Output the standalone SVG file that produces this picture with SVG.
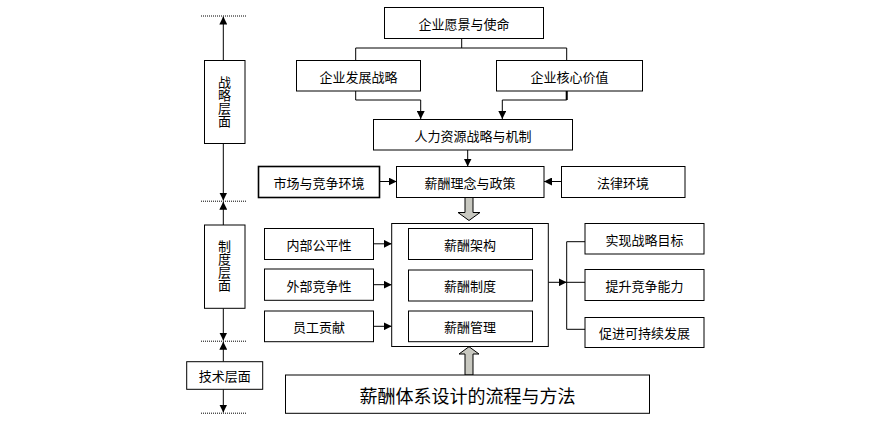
<svg xmlns="http://www.w3.org/2000/svg" width="893" height="421" viewBox="0 0 893 421">
<style>
.b{fill:#fff;stroke:#000;stroke-width:1}
.t{font-family:"Noto Sans CJK SC","Noto Sans",sans-serif;font-size:13px;fill:#000;text-anchor:middle;dominant-baseline:central}
.v{writing-mode:vertical-rl}
.c{fill:none;stroke:#000;stroke-width:1}
.d{fill:none;stroke:#000;stroke-width:1;stroke-dasharray:1,1}
.g{fill:#c8c8c0;stroke:#000;stroke-width:1}
</style>
<defs>
<marker id="ah" markerUnits="userSpaceOnUse" markerWidth="8" markerHeight="8" viewBox="0 0 10 10" refX="10" refY="5" orient="auto">
<path d="M0,0 L10,5 L0,10 z" fill="#000"/>
</marker>
</defs>
<rect width="893" height="421" fill="#fff"/>
<g id="connectors">
<path class="c" d="M461.7,38 V48 M355.7,60 V48 H566.7 V60"/>
<path class="c" d="M355.7,91 V100 H420.7 V119" marker-end="url(#ah)"/>
<path class="c" d="M566.7,91 V100 H502.3 V119" marker-end="url(#ah)"/>
<path class="c" d="M566.7,91 V100" style="stroke-width:2"/>
<path class="c" d="M467.7,150 V166.5" marker-end="url(#ah)"/>
<path class="c" d="M379.3,181.5 H396.7" marker-end="url(#ah)"/>
<path class="c" d="M561.7,181.5 H544" marker-end="url(#ah)"/>
<path class="c" d="M373.3,243.8 H391.7" marker-end="url(#ah)"/>
<path class="c" d="M373.3,284.7 H391.7" marker-end="url(#ah)"/>
<path class="c" d="M373.3,326.3 H391.7" marker-end="url(#ah)"/>
<path class="c" d="M467.7,259.3 V270" marker-end="url(#ah)"/>
<path class="c" d="M467.7,301 V311" marker-end="url(#ah)"/>
<path class="c" d="M548.3,282.3 H566.7" marker-end="url(#ah)"/>
<path class="c" d="M566.7,282.3 H585 M585,241.7 H566.7 V329.3 H585"/>
<polygon class="g" points="465,197 473,197 473,212.5 480,212.5 469,220.5 458,212.5 465,212.5"/>
<polygon class="g" points="465,375 473,375 473,354 479,354 469,346.7 459,354 465,354"/>
<path class="c" d="M223.3,60 V16.5" marker-end="url(#ah)"/>
<path class="c" d="M223.3,143.3 V200.5" marker-end="url(#ah)"/>
<path class="c" d="M223.3,225 V201.8" marker-end="url(#ah)"/>
<path class="c" d="M223.3,308.3 V340.5" marker-end="url(#ah)"/>
<path class="c" d="M223.3,361.7 V341.8" marker-end="url(#ah)"/>
<path class="c" d="M223.3,389.3 V412.5" marker-end="url(#ah)"/>
<path class="d" d="M201,16 H247 M201,201.2 H247 M201,341.2 H247 M201,413.2 H247"/>
</g>
<g id="n-vision"><rect class="b" x="384.5" y="7.5" width="159" height="31"/><text class="t" x="464" y="23">企业愿景与使命</text></g>
<g id="n-dev"><rect class="b" x="296.5" y="60.5" width="124" height="30.5"/><text class="t" x="358.5" y="76">企业发展战略</text></g>
<g id="n-core"><rect class="b" x="496.5" y="60.5" width="146" height="30.5"/><text class="t" x="569.5" y="76">企业核心价值</text></g>
<g id="n-hr"><rect class="b" x="373.5" y="119.5" width="199" height="30.5"/><text class="t" x="473" y="135">人力资源战略与机制</text></g>
<g id="n-market"><rect class="b" x="258.5" y="166.5" width="121" height="31" style="stroke-width:1.6"/><text class="t" x="319" y="182">市场与竞争环境</text></g>
<g id="n-idea"><rect class="b" x="396.5" y="166.5" width="147.5" height="31"/><text class="t" x="470" y="182">薪酬理念与政策</text></g>
<g id="n-law"><rect class="b" x="561.5" y="166.5" width="123.5" height="31"/><text class="t" x="623" y="182">法律环境</text></g>
<g id="n-container"><rect class="b" x="391.7" y="223.5" width="156.6" height="123"/></g>
<g id="n-arch"><rect class="b" x="408.5" y="228.5" width="124" height="31"/><text class="t" x="470" y="244">薪酬架构</text></g>
<g id="n-sys"><rect class="b" x="408.5" y="270" width="124" height="31"/><text class="t" x="470" y="285.5">薪酬制度</text></g>
<g id="n-mgmt"><rect class="b" x="408.5" y="311" width="124" height="30.7"/><text class="t" x="470" y="326.5">薪酬管理</text></g>
<g id="n-inner"><rect class="b" x="264.5" y="228.5" width="109" height="31"/><text class="t" x="319" y="244">内部公平性</text></g>
<g id="n-outer"><rect class="b" x="264.5" y="269" width="109" height="31.3"/><text class="t" x="319" y="285">外部竞争性</text></g>
<g id="n-contrib"><rect class="b" x="264.5" y="311" width="109" height="30.7"/><text class="t" x="319" y="326.5">员工贡献</text></g>
<g id="n-goal"><rect class="b" x="585" y="223.5" width="119" height="30.5"/><text class="t" x="644.5" y="239">实现战略目标</text></g>
<g id="n-comp"><rect class="b" x="585" y="269.5" width="119" height="31"/><text class="t" x="644.5" y="285">提升竞争能力</text></g>
<g id="n-sust"><rect class="b" x="585" y="317.5" width="119" height="30"/><text class="t" x="644.5" y="332.5">促进可持续发展</text></g>
<g id="n-method"><rect class="b" x="285.5" y="375" width="364" height="38.3"/><text class="t" x="467.5" y="394.5" style="font-size:18px">薪酬体系设计的流程与方法</text></g>
<g id="n-strat"><rect class="b" x="204.5" y="60.5" width="40.5" height="83"/><text class="t v" x="224.5" y="101.5">战略层面</text></g>
<g id="n-inst"><rect class="b" x="204.5" y="225" width="40.5" height="83.3"/><text class="t v" x="224.5" y="266">制度层面</text></g>
<g id="n-tech"><rect class="b" x="186.7" y="361.7" width="76" height="27.6"/><text class="t" x="224.7" y="375.5">技术层面</text></g>
</svg>
